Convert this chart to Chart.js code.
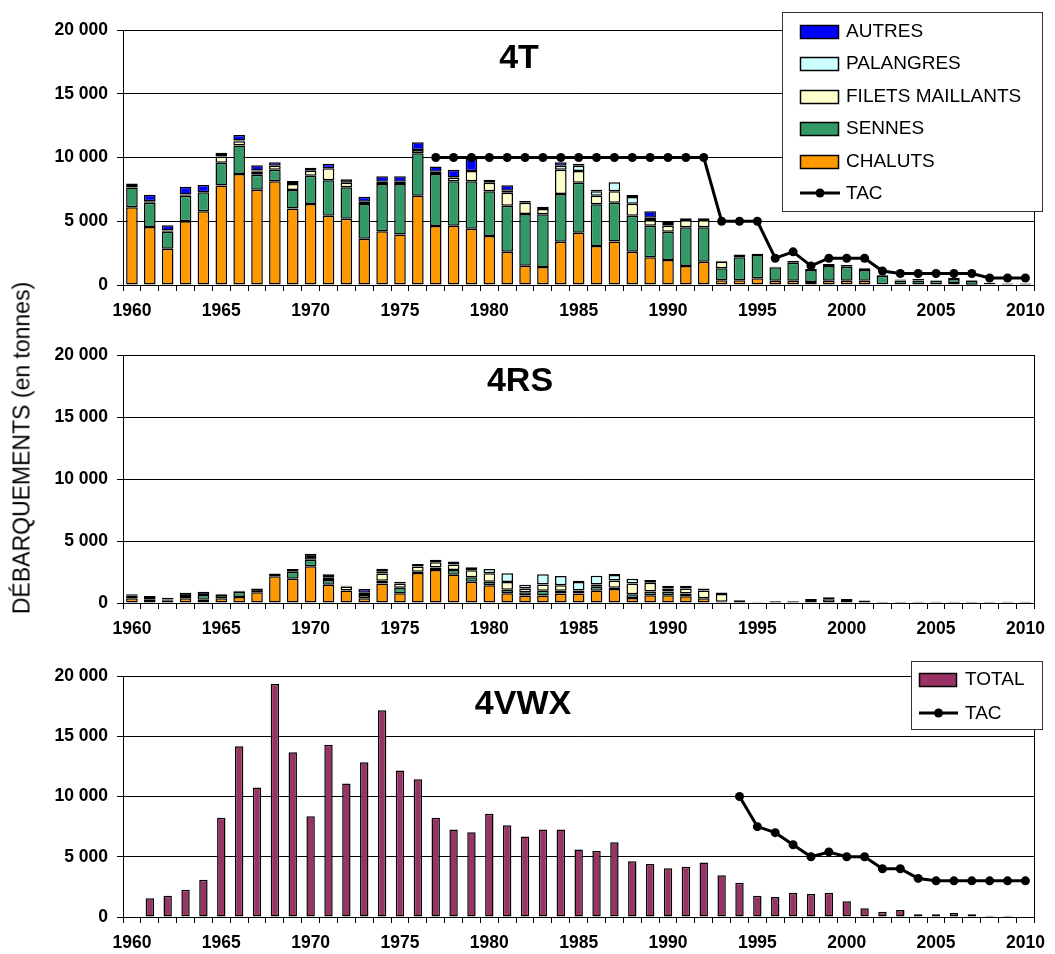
<!DOCTYPE html>
<html lang="fr">
<head>
<meta charset="UTF-8">
<title>Débarquements par engin : 4T, 4RS, 4VWX</title>
<style>
  body { margin: 0; background: #fff; font-family: 'Liberation Sans', Arial, sans-serif; }
  #page { position: relative; width: 1055px; height: 954px; overflow: hidden; }
  #page canvas { position: absolute; left: 0; }
  #titreY {
    position: absolute; left: 22px; top: 448px;
    transform: translate(-50%, -50%) rotate(-90deg);
    white-space: nowrap; font-size: 23px; color: #000;
  }
</style>
</head>
<body>
<div id="page">
  <canvas id="graph4T" width="1055" height="322" style="top:0px"></canvas>
  <canvas id="graph4RS" width="1055" height="310" style="top:330px"></canvas>
  <canvas id="graph4VWX" width="1055" height="306" style="top:648px"></canvas>
  <div id="titreY">DÉBARQUEMENTS (en tonnes)</div>
</div>

<script src="https://cdn.jsdelivr.net/npm/chart.js"></script>
<script>
// ---- données (tonnes) ----
const annees = ['1960','1961','1962','1963','1964','1965','1966','1967','1968','1969',
                '1970','1971','1972','1973','1974','1975','1976','1977','1978','1979',
                '1980','1981','1982','1983','1984','1985','1986','1987','1988','1989',
                '1990','1991','1992','1993','1994','1995','1996','1997','1998','1999',
                '2000','2001','2002','2003','2004','2005','2006','2007','2008','2009','2010'];
const etiquettesX = ['1960','1965','1970','1975','1980','1985','1990','1995','2000','2005','2010'];
const graduationsY = [0, 5000, 10000, 15000, 20000];

// 4T
const chalutsT = [6100,4550,2850,5000,5780,7800,8700,7470,8130,6000,
                  6350,5430,5200,3630,4210,3970,7000,4630,4650,4420,
                  3840,2610,1510,1410,3400,4100,3060,3420,2610,2170,
                  1960,1490,1830,370,370,520,340,340,240,340,
                  340,340,50,30,30,30,150,20,0,0,0];
const sennesT = [1550,1900,1330,2000,1500,1780,2250,1180,910,1450,
                 2220,2780,2460,2720,3710,3950,3330,4070,3480,3710,
                 3510,3610,4060,4130,3730,3920,3270,3030,2820,2480,
                 2220,3030,2690,940,1800,1830,1050,1410,940,1150,
                 1100,840,680,330,330,300,330,330,50,30,30];
const filetsT = [0,0,0,0,0,500,330,230,310,470,
                 390,940,360,180,180,180,250,180,310,810,
                 670,1020,880,420,1910,920,670,900,940,450,
                 470,580,580,520,230,0,0,0,0,0,
                 0,0,0,0,0,0,0,0,0,0,0];
const palangresT = [120,0,0,0,0,120,0,0,0,0,
                    0,0,0,0,0,0,0,0,0,0,
                    0,0,0,0,310,410,350,700,530,180,
                    210,0,0,0,0,0,0,0,0,0,
                    0,0,0,0,0,0,0,0,0,0,0];
const nonPreciseT = [200,120,100,100,0,180,60,100,0,0,
                     240,0,270,0,0,0,0,0,0,0,
                     240,150,140,180,0,160,120,0,160,0,
                     100,130,130,80,0,100,50,130,70,160,
                     130,130,50,80,130,50,80,50,120,80,80];
const autresT = [0,500,400,600,570,0,420,420,270,230,
                 0,360,0,390,420,420,610,420,600,940,
                 0,430,0,0,270,0,0,0,0,500,
                 0,0,0,0,0,0,0,0,0,0,
                 0,0,0,0,0,0,0,0,0,0,0];
const tacT = [null,null,null,null,null,null,null,null,null,null,
              null,null,null,null,null,null,null,10000,10000,10000,
              10000,10000,10000,10000,10000,10000,10000,10000,10000,10000,
              10000,10000,10000,5000,5000,5000,2100,2600,1500,2100,
              2100,2100,1100,900,900,900,900,900,550,550,550];

// 4RS
const chalutsRS = [380,270,220,380,270,380,490,870,2150,1960,
                   2960,1470,1010,380,1580,790,2420,2670,2280,1710,
                   1440,790,600,600,760,760,980,1120,410,630,
                   630,540,380,100,40,0,0,0,0,0,
                   0,0,0,0,0,0,0,0,0,0,0];
const sennesRS = [250,220,0,190,380,270,410,0,0,570,
                  520,380,0,0,220,430,100,190,390,360,
                  270,270,270,380,220,240,330,100,300,290,
                  290,220,0,0,0,0,0,0,0,0,
                  0,0,0,0,0,0,0,0,0,0,0];
const filetsRS = [0,0,60,0,0,0,0,0,0,220,
                  0,220,320,270,570,360,430,430,430,570,
                  680,630,300,520,460,0,190,590,870,710,
                  250,410,630,620,180,60,0,0,250,300,
                  250,0,0,0,0,0,0,0,0,0,0];
const palangresRS = [0,0,0,0,0,0,0,0,0,0,
                     0,0,0,0,0,0,0,0,250,240,
                     360,700,300,810,740,700,700,440,380,220,
                     0,0,0,0,0,0,0,0,0,0,
                     0,0,0,0,0,0,0,0,0,0,0];
const nonPreciseRS = [80,80,150,250,0,60,80,300,220,0,
                      490,240,60,170,160,130,200,190,0,0,
                      0,0,0,0,0,100,0,90,0,0,
                      220,220,160,120,0,50,150,150,80,160,
                      80,200,100,100,100,100,100,100,100,100,100];
const autresRS = [0,0,0,0,250,0,0,0,0,0,
                  0,0,0,300,240,0,0,0,0,0,
                  0,0,0,0,0,0,0,0,0,0,
                  0,0,0,0,0,0,0,0,0,0,
                  0,0,0,0,0,0,0,0,0,0,0];

// 4VWX
const totalVWX = [null,1550,1770,2270,3100,8230,14180,10750,19330,13680,
                  8360,14290,11080,12850,17150,12160,11440,8230,7260,7040,
                  8560,7620,6680,7260,7260,5600,5480,6200,4630,4400,
                  4040,4180,4520,3460,2850,1770,1660,2020,1910,2020,
                  1300,720,440,580,220,220,330,220,110,110,null];
const tacVWX = [null,null,null,null,null,null,null,null,null,null,
                null,null,null,null,null,null,null,null,null,null,
                null,null,null,null,null,null,null,null,null,null,
                null,null,null,null,10000,7500,7000,6000,5000,5400,
                5000,5000,4000,4000,3200,3000,3000,3000,3000,3000,3000];

// ---- mise en forme ----
const police = "'Liberation Sans', Arial, sans-serif";
const couleurs = {
  chaluts: '#FF9900',
  sennes: '#339966',
  filets: '#FFFFCC',
  palangres: '#CCFFFF',
  nonPrecise: '#000000',
  autres: '#0000FF',
  total: '#993366'
};

function milliers(v) {
  return String(v).replace(/\B(?=(\d{3})+(?!\d))/g, ' ');
}

function echelles(empile) {
  const policeAxe = { family: police, size: 17.5, weight: 'bold' };
  return {
    x: {
      stacked: empile,
      grid: { offset: true, drawOnChartArea: false, drawTicks: true, tickLength: 6, color: '#000' },
      border: { color: '#000', width: 1 },
      ticks: {
        autoSkip: false, maxRotation: 0, minRotation: 0, padding: 10, color: '#000', font: policeAxe,
        callback(val) {
          const a = this.getLabelForValue(val);
          return etiquettesX.includes(a) ? a : '';
        }
      },
      afterFit(s) { s.height = 37; }
    },
    y: {
      stacked: empile, min: 0, max: 20000,
      afterBuildTicks(s) { s.ticks = graduationsY.map(v => ({ value: v })); },
      grid: { color: '#000', lineWidth: 1, tickLength: 6 },
      border: { color: '#000', width: 1 },
      ticks: { padding: 9, color: '#000', font: policeAxe, callback: v => milliers(v) },
      afterFit(s) { s.width = 123; }
    }
  };
}

function barres(label, data, couleur, largeur) {
  return {
    type: 'bar', label, data,
    backgroundColor: couleur, borderColor: '#000', borderWidth: 1.5, borderSkipped: false,
    barPercentage: largeur, categoryPercentage: 1, stack: 'engins', order: 1
  };
}

function ligneTAC(data) {
  return {
    type: 'line', label: 'TAC', data,
    borderColor: '#000', borderWidth: 3, tension: 0, fill: false,
    pointRadius: 4.5, pointHoverRadius: 4.5, pointBackgroundColor: '#000', pointBorderWidth: 0,
    stack: 'tac', order: 0
  };
}

// cadre de la zone de tracé, nom de la zone et légende encadrée
const cadre = {
  id: 'cadre',
  afterDraw(chart, args, o) {
    const { ctx, chartArea: a } = chart;
    ctx.save();
    ctx.strokeStyle = '#000';
    ctx.lineWidth = 1;
    ctx.strokeRect(Math.round(a.left) + 0.5, Math.round(a.top) + 0.5,
                   Math.round(a.right - a.left), Math.round(a.bottom - a.top));

    ctx.fillStyle = '#000';
    ctx.font = `bold 34px ${police}`;
    ctx.textAlign = 'center';
    ctx.textBaseline = 'middle';
    ctx.fillText(o.zone, o.zoneX, o.zoneY);

    const L = o.legende;
    if (L) {
      ctx.fillStyle = '#fff';
      ctx.fillRect(L.x, L.y, L.w, L.h);
      ctx.strokeStyle = '#333';
      ctx.strokeRect(L.x + 0.5, L.y + 0.5, L.w, L.h);
      ctx.font = `19px ${police}`;
      ctx.textAlign = 'left';
      L.items.forEach((nom, i) => {
        const ds = chart.data.datasets.find(d => d.label === nom);
        const cy = Math.round(L.y + L.premier + i * L.pas);
        const x0 = L.x + L.marge;
        if (ds.type === 'line') {
          ctx.strokeStyle = '#000';
          ctx.lineWidth = 3;
          ctx.beginPath();
          ctx.moveTo(x0, cy);
          ctx.lineTo(x0 + L.carre + 2, cy);
          ctx.stroke();
          ctx.fillStyle = '#000';
          ctx.beginPath();
          ctx.arc(x0 + (L.carre + 2) / 2, cy, 4.5, 0, Math.PI * 2);
          ctx.fill();
        } else {
          ctx.fillStyle = ds.backgroundColor;
          ctx.fillRect(x0, cy - 6, L.carre, 13);
          ctx.strokeStyle = '#000';
          ctx.lineWidth = 1.5;
          ctx.strokeRect(x0 + 0.5, cy - 6 + 0.5, L.carre, 13);
        }
        ctx.fillStyle = '#000';
        ctx.fillText(nom, L.x + L.texte, cy + 1);
      });
    }
    ctx.restore();
  }
};

function graphique(id, jeux, empile, padHaut, cadreOpts) {
  return new Chart(document.getElementById(id), {
    type: 'bar',
    data: { labels: annees, datasets: jeux },
    options: {
      responsive: false,
      animation: false,
      devicePixelRatio: 1,
      layout: { padding: { top: padHaut, left: 0, right: 13, bottom: 0 } },
      scales: echelles(empile),
      plugins: {
        legend: { display: false },
        tooltip: { enabled: false },
        cadre: cadreOpts
      }
    },
    plugins: [cadre]
  });
}

const legendeEngins = ['AUTRES', 'PALANGRES', 'FILETS MAILLANTS', 'SENNES', 'CHALUTS', 'TAC'];

graphique('graph4T', [
  barres('CHALUTS', chalutsT, couleurs.chaluts, 0.65),
  barres('SENNES', sennesT, couleurs.sennes, 0.65),
  barres('FILETS MAILLANTS', filetsT, couleurs.filets, 0.65),
  barres('PALANGRES', palangresT, couleurs.palangres, 0.65),
  barres('NON PRÉCISÉ', nonPreciseT, couleurs.nonPrecise, 0.65),
  barres('AUTRES', autresT, couleurs.autres, 0.65),
  ligneTAC(tacT)
], true, 30, {
  zone: '4T', zoneX: 519, zoneY: 59,
  legende: { x: 782, y: 12, w: 260, h: 199, premier: 19, pas: 32.4, marge: 18, carre: 38, texte: 64, items: legendeEngins }
});

graphique('graph4RS', [
  barres('CHALUTS', chalutsRS, couleurs.chaluts, 0.65),
  barres('SENNES', sennesRS, couleurs.sennes, 0.65),
  barres('FILETS MAILLANTS', filetsRS, couleurs.filets, 0.65),
  barres('PALANGRES', palangresRS, couleurs.palangres, 0.65),
  barres('NON PRÉCISÉ', nonPreciseRS, couleurs.nonPrecise, 0.65),
  barres('AUTRES', autresRS, couleurs.autres, 0.65)
], true, 25, { zone: '4RS', zoneX: 520, zoneY: 52 });

graphique('graph4VWX', [
  barres('TOTAL', totalVWX, couleurs.total, 0.47),
  ligneTAC(tacVWX)
], false, 28, {
  zone: '4VWX', zoneX: 523, zoneY: 57,
  legende: { x: 911, y: 13, w: 131, h: 68, premier: 18, pas: 34.3, marge: 8, carre: 37, texte: 54, items: ['TOTAL', 'TAC'] }
});
</script>
</body>
</html>
